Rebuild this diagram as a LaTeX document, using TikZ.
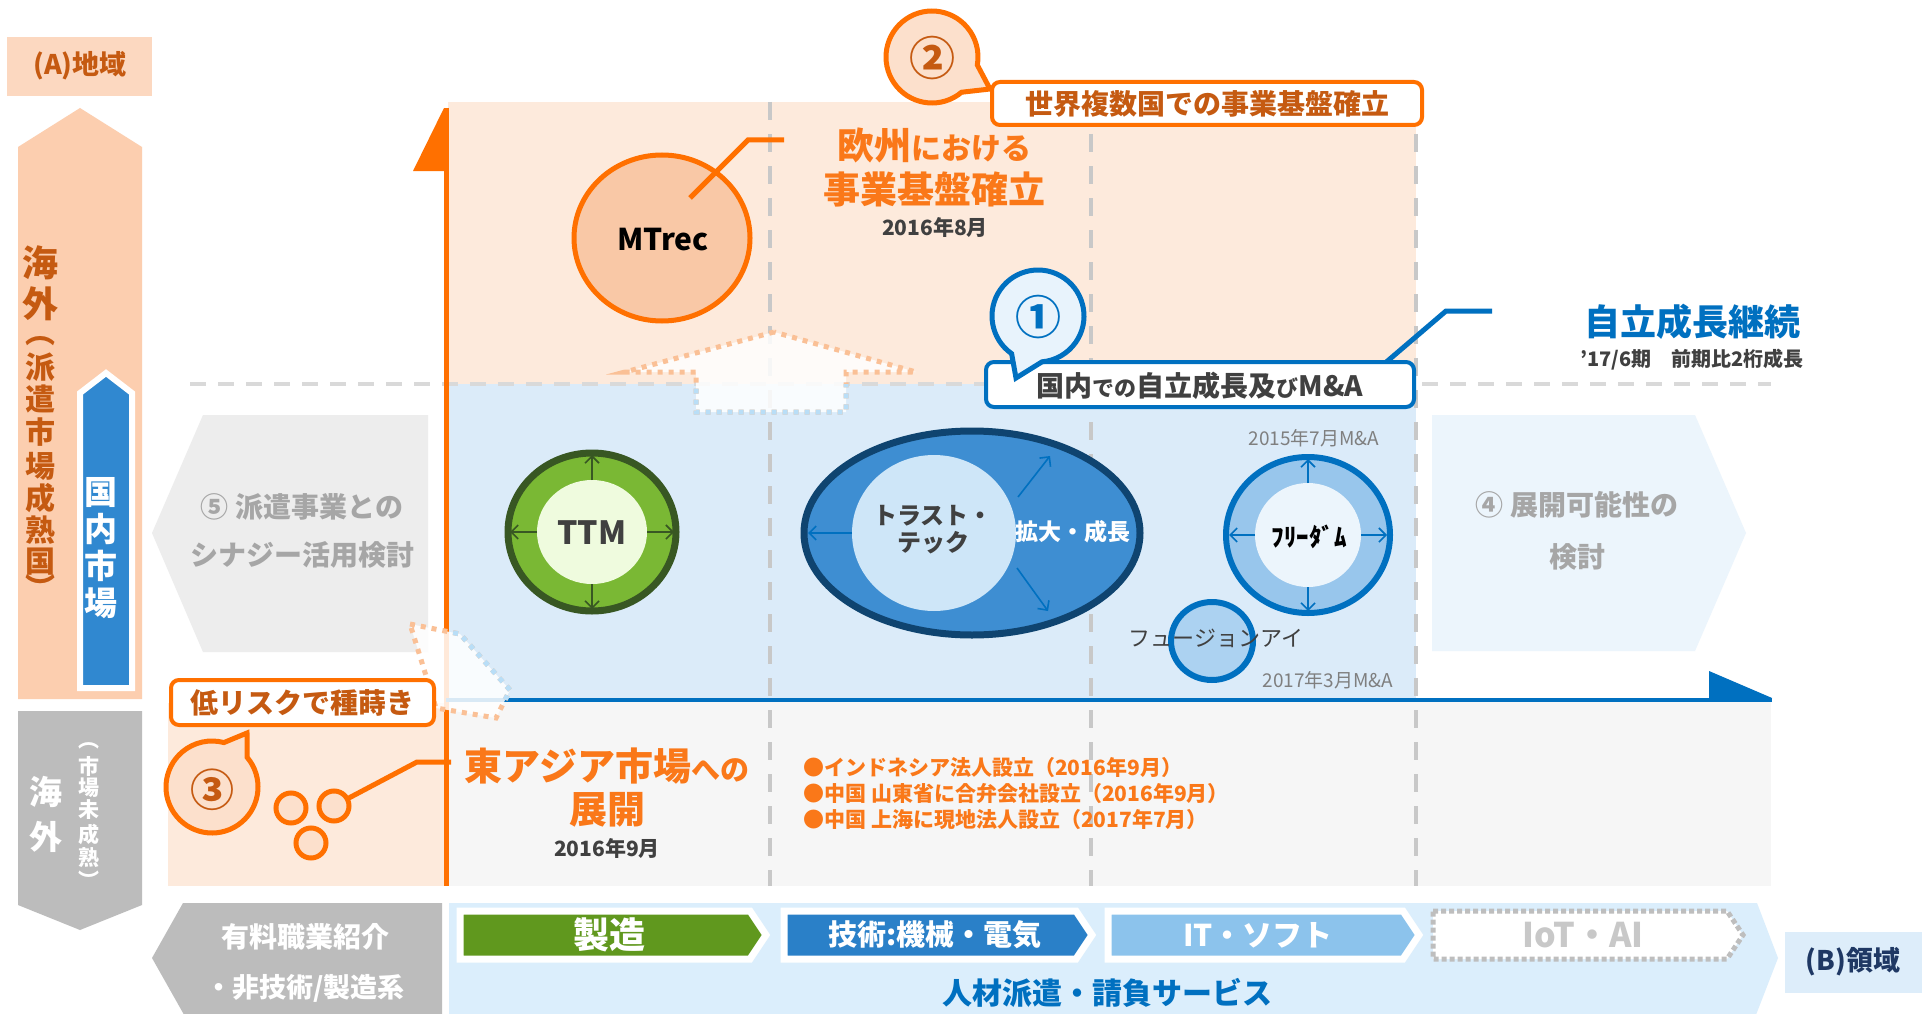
\documentclass[tikz,border=0pt]{standalone}
\usepackage{fontspec}
\setmainfont{Noto Sans CJK JP}
\usetikzlibrary{arrows.meta}
\newcommand\fsz[2]{\fontsize{#1}{#2}\selectfont}
\definecolor{orgS}{RGB}{255,112,0}
\definecolor{orgT}{RGB}{250,120,25}
\definecolor{dOrg}{RGB}{197,90,17}
\definecolor{aBox}{RGB}{252,216,192}
\definecolor{upOrg}{RGB}{252,206,175}
\definecolor{blueArr}{RGB}{48,136,208}
\definecolor{regO}{RGB}{253,234,220}
\definecolor{regB}{RGB}{219,235,249}
\definecolor{regG}{RGB}{246,246,246}
\definecolor{grayArr}{RGB}{188,188,188}
\definecolor{dashH}{RGB}{217,217,217}
\definecolor{dashV}{RGB}{200,200,200}
\definecolor{blueS}{RGB}{0,112,192}
\definecolor{navyS}{RGB}{15,68,112}
\definecolor{darkT}{RGB}{64,64,64}
\definecolor{midG}{RGB}{127,127,127}
\definecolor{lightG}{RGB}{166,166,166}
\definecolor{box5}{RGB}{237,237,237}
\definecolor{box4}{RGB}{236,245,252}
\definecolor{bubOF}{RGB}{252,224,204}
\definecolor{bubBF}{RGB}{232,243,252}
\definecolor{mtrecF}{RGB}{249,200,166}
\definecolor{ttmS}{RGB}{56,87,35}
\definecolor{ttmR}{RGB}{122,184,52}
\definecolor{ttmI}{RGB}{239,251,222}
\definecolor{ttR}{RGB}{62,142,210}
\definecolor{ttI}{RGB}{206,230,248}
\definecolor{frR}{RGB}{152,198,236}
\definecolor{frI}{RGB}{236,245,252}
\definecolor{fuF}{RGB}{172,210,241}
\definecolor{dotO}{RGB}{250,192,150}
\definecolor{dotB}{RGB}{185,222,247}
\definecolor{mfgG}{RGB}{96,152,30}
\definecolor{techB}{RGB}{42,128,200}
\definecolor{itB}{RGB}{140,195,236}
\definecolor{svcB}{RGB}{219,238,252}
\definecolor{bBox}{RGB}{221,237,250}
\definecolor{navyT}{RGB}{31,56,100}
\definecolor{iotT}{RGB}{200,200,200}
\definecolor{iotS}{RGB}{190,190,190}
\newcommand\uparr[1]{\draw[#1] (774,332) -- (625,372) -- (696,372) -- (696,412) -- (846,412) -- (846,372) -- (916,372) -- cycle;}
\newcommand\diagarr[1]{\draw[#1] (410,624) -- (460,634) -- (510,690) -- (496,718) -- (436,708) -- cycle;}
\begin{document}
\begin{tikzpicture}[x=1pt,y=-1pt,
 tx/.style={inner sep=0pt, align=center},
 gdashh/.style={draw=dashH, line width=4pt, dash pattern=on 16pt off 12pt},
 gdashv/.style={draw=dashV, line width=3.5pt, dash pattern=on 18pt off 14pt},
 dotOs/.style={draw=dotO, line width=5pt, dash pattern=on 5pt off 6pt},
 dotBs/.style={draw=dotB, line width=5pt, dash pattern=on 5pt off 6pt},
 bubO/.style={draw=orgS, line width=5pt, fill=bubOF},
 bubB/.style={draw=blueS, line width=5pt, fill=bubBF},
 lbox/.style={rounded corners=8pt, fill=white, line width=4pt},
 callO/.style={draw=orgS, line width=5pt},
 callB/.style={draw=blueS, line width=5pt},
 ringarr/.style={-{Straight Barb[length=7pt,width=14pt]}, line width=1.6pt},
 chev/.style={draw=white, line width=7pt, line join=miter},
]
\useasboundingbox (0,0) rectangle (1922,1014);
\fill[white] (0,0) rectangle (1922,1014);

% ---------- left axis labels ----------
\fill[aBox] (7,37) rectangle (152,96);
\node[tx, text=dOrg, font=\bfseries\fsz{27}{30}] (aLabel) at (80,66) {(A)地域};

\fill[upOrg] (18,147) -- (80,108) -- (142,147) -- (142,699) -- (18,699) -- cycle;
\node[tx, text=dOrg, font=\bfseries\fsz{36}{41}] (kaigaiA) at (40,283.5) {海\\外};
\foreach \c/\yy in {︵/341,派/367,遣/399,市/432,場/466,成/498,熟/530,国/562,︶/587}{
  \node[tx, text=dOrg, font=\bfseries\fsz{30}{30}] (kB\yy) at (40,\yy) {\c};}
\draw[white, line width=6pt, fill=blueArr, line join=miter] (80,393) -- (106,373) -- (132,393) -- (132,688) -- (80,688) -- cycle;
\node[tx, text=white, font=\bfseries\fsz{33}{37}] (kokunaiV) at (101,548.5) {国\\内\\市\\場};

\fill[grayArr] (18,711) -- (142,711) -- (142,905) -- (80,930) -- (18,905) -- cycle;
\node[tx, text=white, font=\bfseries\fsz{33}{45}] (kaigaiB) at (46,814.5) {海\\外};
\foreach \c/\yy in {︵/746,市/766,場/788,未/810,成/834,熟/858,︶/880}{
  \node[tx, text=white, font=\bfseries\fsz{21}{22}] (kE\yy) at (89,\yy) {\c};}

% ---------- regions ----------
\fill[regO] (448,102) rectangle (1416,384);
\fill[regB] (448,384) rectangle (1416,699);
\fill[regG] (448,701) rectangle (1771,886);
\fill[regO] (168,703) rectangle (444,886);
\foreach \xx in {770,1091,1416} \draw[gdashv] (\xx,102) -- (\xx,886);
\draw[gdashh] (190,384) -- (1771,384);

% ---------- side pentagons ----------
\fill[box5] (152,533) -- (203,415) -- (428,415) -- (428,652) -- (203,652) -- cycle;
\node[tx, text=lightG, font=\bfseries\fsz{28}{48}] (t5) at (302,531) {⑤ 派遣事業との\\シナジー活用検討};
\fill[box4] (1432,415) -- (1695,415) -- (1746,533) -- (1695,651) -- (1432,651) -- cycle;
\node[tx, text=lightG, font=\bfseries\fsz{28}{52}] (t4) at (1577,531) {④ 展開可能性の\\検討};

% ---------- axes ----------
\draw[orgS, line width=5pt] (446,108) -- (446,886);
\fill[orgS] (413,171) -- (444,108) -- (444,171) -- cycle;
\draw[blueS, line width=4.5pt] (446,700) -- (1772,700);
\fill[blueS] (1709,671) -- (1709,698) -- (1772,698) -- cycle;

% ---------- dotted arrows ----------
\uparr{fill=white, fill opacity=.85, draw=none}
\uparr{dotOs}
\begin{scope}\clip (448,384) rectangle (1416,699); \uparr{dotBs} \end{scope}
\diagarr{fill=white, fill opacity=.85, draw=none}
\diagarr{dotOs}
\begin{scope}\clip (448,384) rectangle (1416,699); \diagarr{dotBs} \end{scope}

% ---------- Europe ----------
\draw[orgS, line width=5pt, fill=mtrecF] (662,238) ellipse [x radius=88, y radius=83];
\node[tx, font=\bfseries\fsz{30}{32}] (mtrec) at (663,240) {MTrec};
\draw[callO] (690,198) -- (748,140) -- (784,140);
\node[tx, text=orgT, font=\bfseries] (eu1) at (934,145) {{\fsz{37}{40}欧州}{\fsz{30}{40}における}};
\node[tx, text=orgT, font=\bfseries\fsz{37}{40}] (eu2) at (934,189) {事業基盤確立};
\node[tx, text=darkT, font=\bfseries\fsz{21}{24}] (eu3) at (935,227) {2016年8月};

\draw[bubO] (932,57) ++(50:46) arc[start angle=50, end angle=370, radius=46] -- (990,89) -- cycle;
\node[tx, text=dOrg, font=\bfseries\fsz{46}{48}] (n2) at (932,58) {②};
\draw[lbox, draw=orgS] (992,82) rectangle (1422,125);
\node[tx, text=dOrg, font=\bfseries\fsz{28}{30}] (sekai) at (1207,104) {世界複数国での事業基盤確立};

% ---------- domestic ----------
\draw[callB] (1384,364) -- (1446,311) -- (1492,311);
\draw[lbox, draw=blueS] (986,362) rectangle (1414,407);
\node[tx, text=darkT, font=\bfseries] (kokunai) at (1200,386) {{\fsz{28}{30}国内}{\fsz{22}{30}での}{\fsz{28}{30}自立成長及}{\fsz{22}{30}び}{\fsz{28}{30}M\&A}};
\draw[bubB] (1038,316) ++(125:46) arc[start angle=125, end angle=445, radius=46] -- (1016,378) -- cycle;
\node[tx, text=blueS, font=\bfseries\fsz{46}{48}] (n1) at (1038,317) {①};
\node[tx, text=blueS, font=\bfseries\fsz{36}{40}] (jiritsu) at (1692,322) {自立成長継続};
\node[tx, text=darkT, font=\bfseries\fsz{20}{22}] (ki) at (1692,360) {’17/6期　前期比2桁成長};

% TTM
\draw[ttmS, line width=7pt, fill=ttmR] (592,532) ellipse [x radius=84, y radius=79];
\fill[ttmI] (592,532) ellipse [x radius=55, y radius=52];
\draw[ringarr, ttmS] (592,480) -- (592,455);
\draw[ringarr, ttmS] (592,584) -- (592,609);
\draw[ringarr, ttmS] (537,532) -- (510,532);
\draw[ringarr, ttmS] (647,532) -- (674,532);
\node[tx, text=darkT, font=\bfseries\fsz{32}{34}] (ttm) at (592,533) {TTM};

% Trust Tech
\draw[navyS, line width=7pt, fill=ttR] (972,533) ellipse [x radius=168, y radius=102];
\fill[ttI] (934,533) ellipse [x radius=82, y radius=78];
\draw[ringarr, blueS] (852,533) -- (808,533);
\draw[ringarr, blueS] (1018,497) -- (1050,456);
\draw[ringarr, blueS] (1017,568) -- (1048,611);
\node[tx, text=darkT, font=\bfseries\fsz{24}{27}] (tt) at (933,530) {トラスト・\\テック};
\node[tx, text=white, font=\bfseries\fsz{23}{25}] (kakudai) at (1073,532) {拡大・成長};

% Freedom
\draw[blueS, line width=6pt, fill=frR] (1308,535) ellipse [x radius=82, y radius=78];
\fill[frI] (1308,535) ellipse [x radius=53, y radius=52];
\draw[ringarr, blueS] (1308,483) -- (1308,459);
\draw[ringarr, blueS] (1308,587) -- (1308,611);
\draw[ringarr, blueS] (1255,535) -- (1229,535);
\draw[ringarr, blueS] (1361,535) -- (1387,535);
\node[tx, font=\bfseries\fsz{25}{27}] (fr) at (1309,537) {ﾌﾘｰﾀﾞﾑ};
\node[tx, text=midG, font=\fsz{19}{21}] (ma1) at (1314,438) {2015年7月M\&A};

% Fusion
\draw[blueS, line width=6pt, fill=fuF] (1212,641) ellipse [x radius=41, y radius=39];
\node[tx, text=darkT, font=\fsz{22}{24}] (fu) at (1216,638) {フュージョンアイ};
\node[tx, text=midG, font=\fsz{19}{21}] (ma2) at (1328,680) {2017年3月M\&A};

% ---------- East Asia ----------
\draw[lbox, draw=orgS] (171,680) rectangle (434,725);
\node[tx, text=dOrg, font=\bfseries\fsz{28}{30}] (lowrisk) at (302,703) {低リスクで種蒔き};
\draw[bubO] (212,787) ++(320:46) arc[start angle=320, end angle=645, radius=46] -- (247,733) -- cycle;
\node[tx, text=dOrg, font=\bfseries\fsz{44}{46}] (n3) at (212,790) {③};
\foreach \cx/\cy in {291/808, 334/806, 311/843}
  \draw[orgS, line width=5pt, fill=bubOF] (\cx,\cy) circle[radius=15];
\draw[callO] (347,799) -- (417,762) -- (451,762);
\node[tx, text=orgT, font=\bfseries] (ea1) at (607,766) {{\fsz{38}{40}東アジア市場}{\fsz{29}{40}への}};
\node[tx, text=orgT, font=\bfseries\fsz{38}{40}] (ea2) at (607,810) {展開};
\node[tx, text=darkT, font=\bfseries\fsz{21}{24}] (ea3) at (607,848) {2016年9月};
\node[tx, anchor=west, text=orgT, font=\bfseries\fsz{21}{24}] (bl1) at (803,768) {●インドネシア法人設立（2016年9月）};
\node[tx, anchor=west, text=orgT, font=\bfseries\fsz{21}{24}] (bl2) at (803,794) {●中国 山東省に合弁会社設立（2016年9月）};
\node[tx, anchor=west, text=orgT, font=\bfseries\fsz{21}{24}] (bl3) at (803,820) {●中国 上海に現地法人設立（2017年7月）};

% ---------- bottom strip ----------
\fill[grayArr] (152,958) -- (183,903) -- (442,903) -- (442,1020) -- (187,1020) -- cycle;
\node[tx, text=white, font=\bfseries\fsz{28}{30}] (yuryo1) at (305,937) {有料職業紹介};
\node[tx, text=white, font=\bfseries\fsz{27}{30}] (yuryo2) at (305,988) {・非技術/製造系};
\fill[svcB] (449,903) -- (1757,903) -- (1778,958) -- (1754,1020) -- (449,1020) -- cycle;
\draw[chev, fill=mfgG] (460,911) -- (750,911) -- (766,935) -- (750,959) -- (460,959) -- cycle;
\draw[chev, fill=techB] (784,911) -- (1076,911) -- (1092,935) -- (1076,959) -- (784,959) -- cycle;
\draw[chev, fill=itB] (1108,911) -- (1403,911) -- (1419,935) -- (1403,959) -- (1108,959) -- cycle;
\draw[draw=iotS, line width=5pt, dash pattern=on 5pt off 3pt, fill=white] (1433,911) -- (1727,911) -- (1743,935) -- (1727,959) -- (1433,959) -- cycle;
\node[tx, text=white, font=\bfseries\fsz{36}{38}] (seizo) at (609,935) {製造};
\node[tx, text=white, font=\bfseries\fsz{29}{32}] (gijutsu) at (935,935) {技術:機械・電気};
\node[tx, text=white, font=\bfseries\fsz{30}{32}] (itsoft) at (1258,935) {IT・ソフト};
\node[tx, text=iotT, font=\bfseries\fsz{34}{36}] (iotai) at (1583,935) {IoT・AI};
\node[tx, text=blueS, font=\bfseries\fsz{30}{32}] (jinzai) at (1107,993) {人材派遣・請負サービス};
\fill[bBox] (1785,932) rectangle (1922,993);
\node[tx, text=navyT, font=\bfseries\fsz{27}{30}] (bLabel) at (1853,962) {(B)領域};
\end{tikzpicture}
\end{document}
